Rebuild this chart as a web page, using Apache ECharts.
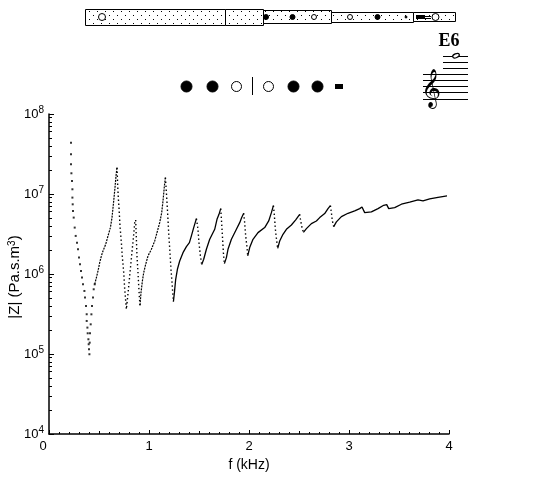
<!DOCTYPE html>
<html><head><meta charset="utf-8">
<style>html,body{margin:0;padding:0;background:#fff}#c{width:560px;height:480px}</style>
<script src="https://cdn.jsdelivr.net/npm/echarts@6/dist/echarts.min.js"></script>
</head><body><div id="c"></div>
<script>
// Frequencies in kHz, impedance as log10 |Z| (Pa.s.m^-3).
const dotFreq = [0.220,0.220,0.220,0.224,0.230,0.234,0.234,0.237,0.240,0.247,0.257,0.267,0.280,0.290,0.300,0.310,0.320,0.330,0.340,0.354,0.360,0.370,0.377,0.377,0.384,0.387,0.394,0.397,0.400,0.404,0.407,0.410,0.417,0.424,0.430,0.440,0.447,0.457];
const dotLogZ = [7.642,7.497,7.372,7.259,7.163,7.059,6.955,6.871,6.788,6.705,6.580,6.476,6.392,6.309,6.205,6.122,6.038,5.955,5.871,5.788,5.705,5.601,5.497,5.413,5.330,5.259,5.184,5.122,5.059,4.997,5.142,5.259,5.371,5.496,5.601,5.705,5.809,5.871];
const steepFreq = [0.680,0.684,0.687,0.694,0.700,0.710,0.724,0.734,0.747,0.757,0.767,0.774,0.784,0.794,0.807,0.820,0.834,0.847,0.857,0.867,0.874,0.880,0.890,0.897,0.904,0.910,null,
 1.164,1.174,1.184,1.197,1.210,1.220,1.230,1.237,1.244,null,
 1.474,1.490,1.500,1.514,1.527,null,
 1.717,1.724,1.734,1.744,1.754,null,
 1.947,1.957,1.967,1.980,1.987,null,
 2.244,2.254,2.264,2.277,2.287,null,
 2.507,2.517,2.530,2.544,null,
 2.814,2.824,2.834,2.847];
const steepLogZ = [7.330,7.205,7.101,6.934,6.830,6.601,6.392,6.205,6.017,5.809,5.663,5.559,5.684,5.809,5.976,6.142,6.330,6.496,6.642,6.676,6.434,6.226,6.017,5.851,5.705,5.609,null,
 7.205,7.017,6.809,6.517,6.267,6.059,5.892,5.767,5.655,null,
 6.692,6.559,6.392,6.226,6.117,null,
 6.817,6.684,6.476,6.267,6.130,null,
 6.759,6.642,6.476,6.330,6.226,null,
 6.855,6.726,6.559,6.413,6.321,null,
 6.746,6.663,6.580,6.521,null,
 6.855,6.767,6.663,6.592];
const denseFreq = [0.457,0.474,0.490,0.507,0.524,0.540,0.567,0.590,0.614,0.630,0.647,0.660,0.670,0.680,null,
 0.910,0.920,0.934,0.947,0.967,0.990,1.024,1.057,1.080,1.107,1.127,1.140,1.154,1.164];
const denseLogZ = [5.871,5.955,6.038,6.142,6.226,6.288,6.371,6.476,6.580,6.705,6.913,7.080,7.226,7.330,null,
 5.609,5.767,5.913,6.017,6.122,6.226,6.309,6.413,6.517,6.642,6.767,6.913,7.101,7.205];
const solidFreq = [1.244,1.254,1.267,1.284,1.307,1.340,1.374,1.404,1.424,1.447,1.474,null,
 1.527,1.547,1.574,1.607,1.657,1.680,1.700,1.717,null,
 1.754,1.774,1.790,1.824,1.874,1.907,1.927,1.947,null,
 1.987,2.007,2.040,2.090,2.157,2.197,2.224,2.244,null,
 2.287,2.307,2.340,2.374,2.424,2.467,2.507,null,
 2.544,2.574,2.624,2.674,2.707,2.757,2.790,2.814,null,
 2.847,2.874,2.924,2.990,3.057,3.107,3.130,3.157,3.174,3.224,3.290,3.347,3.377,3.397,3.417,3.457,3.524,3.607,3.690,3.740,3.807,3.890,3.980];
const solidLogZ = [5.655,5.767,5.934,6.059,6.163,6.267,6.342,6.392,6.476,6.580,6.692,null,
 6.117,6.184,6.309,6.434,6.559,6.684,6.746,6.817,null,
 6.130,6.205,6.309,6.434,6.559,6.642,6.705,6.759,null,
 6.226,6.330,6.434,6.517,6.580,6.663,6.767,6.855,null,
 6.321,6.413,6.496,6.559,6.613,6.676,6.746,null,
 6.521,6.567,6.630,6.663,6.705,6.755,6.817,6.855,null,
 6.592,6.651,6.717,6.759,6.788,6.817,6.838,6.767,6.742,6.776,6.817,6.859,6.867,6.817,6.801,6.830,6.872,6.897,6.926,6.913,6.938,6.959,6.976];
const xTickValues = [0,1,2,3,4];

function pairs(fs, ls){ return fs.map((f,i)=> f===null ? [NaN,NaN] : [f, Math.pow(10, ls[i])]); }

const pat = document.createElement('canvas'); pat.width = 8; pat.height = 8;
const pc = pat.getContext('2d'); pc.fillStyle = '#fff'; pc.fillRect(0,0,8,8);
pc.fillStyle = '#000'; pc.fillRect(1,3,1,1); pc.fillRect(5,7,1,1);
const stip = {image: pat, repeat: 'repeat'};

const K = '#000';
function box(x,y,w,h){ return {type:'rect',shape:{x,y,width:w,height:h},style:{fill:stip,stroke:K,lineWidth:1},silent:true}; }
function hole(cx,cy,r,filled){ return {type:'circle',shape:{cx,cy,r},style:{fill:filled?K:'#fff',stroke:K,lineWidth:1},silent:true}; }
function ln(x1,y1,x2,y2){ return {type:'line',shape:{x1,y1,x2,y2},style:{stroke:K,lineWidth:1},silent:true}; }
const staffYs = [74.5,80.5,86.5,92.5,99.5];
const ledgerYs = [56.5,62.5,68.5];
const deco = [
  box(85.5,9.5,140,16), box(225.5,9.5,38,16), box(263.5,10.5,68,13), box(331.5,12.5,82,10), box(413.5,12.5,42,9),
  hole(102,17,3.5,false), hole(266,17,2.5,true), hole(292.5,17,2.5,true), hole(314,17,2.5,false),
  hole(350,17,2.5,false), hole(377.5,17,2.5,true), hole(406,17,1,true),
  {type:'rect',shape:{x:416,y:15,width:9,height:4},style:{fill:K},silent:true},
  ln(425,16.5,431,16.5), ln(425,18.5,431,18.5), hole(435.5,17,3.5,false),
  hole(186.5,86.5,5.5,true), hole(212.5,86.5,5.5,true), hole(236.5,86.5,5,false),
  ln(252.5,77,252.5,95),
  hole(268.5,86.5,5,false), hole(293.5,86.5,5.5,true), hole(317.5,86.5,5.5,true),
  {type:'rect',shape:{x:335,y:84,width:8,height:5},style:{fill:K},silent:true},
  ...ledgerYs.map(y=>ln(443,y,468,y)),
  ...staffYs.map(y=>ln(423,y,468,y)),
  {type:'ellipse',shape:{cx:456,cy:55.7,rx:3.5,ry:2},rotation:0.4,originX:456,originY:55.7,style:{fill:'#fff',stroke:K,lineWidth:1.2},silent:true},
  {type:'text',style:{x:449,y:41,text:'E6',font:'bold 18px "Liberation Serif"',fill:K,align:'center',verticalAlign:'middle'},silent:true},
  {type:'text',style:{x:431,y:90,text:'\uD834\uDD1E',font:'34px "DejaVu Sans"',fill:K,align:'center',verticalAlign:'middle'},silent:true}
];

const FONT = '"Liberation Sans"';
const chart = echarts.init(document.getElementById('c'), null, {renderer:'canvas'});
chart.setOption({
  animation:false,
  backgroundColor:'#fff',
  graphic:{elements:deco},
  grid:{left:49,top:114,width:400,height:320,containLabel:false,outerBoundsMode:'none'},
  xAxis:[{
    type:'value',min:0,max:4,interval:1,
    name:'f (kHz)',nameLocation:'middle',nameGap:18,
    nameTextStyle:{fontFamily:FONT,fontSize:14,color:K},
    axisLine:{show:true,onZero:false,lineStyle:{color:K,width:1.5}},
    axisTick:{show:true,inside:true,length:4,lineStyle:{color:K,width:1}},
    minorTick:{show:true,splitNumber:10,length:2,lineStyle:{color:K,width:1}},
    splitLine:{show:false},
    axisLabel:{margin:6,fontFamily:FONT,fontSize:13,color:K,
      customValues:xTickValues,
      formatter:v=> v===0 ? '{z|0}' : String(v),
      rich:{z:{fontFamily:FONT,fontSize:13,color:K,padding:[0,12,0,0]}}}
  },{
    type:'value',min:0,max:4,interval:0.5,position:'bottom',
    axisLine:{show:false},
    axisTick:{show:true,inside:true,length:3,lineStyle:{color:K,width:1}},
    axisLabel:{show:false},splitLine:{show:false}
  }],
  yAxis:{
    type:'log',logBase:10,min:1e4,max:1e8,
    name:'{a||Z| (Pa.s.m}{s|3}{a|)}',nameLocation:'middle',nameGap:26,nameRotate:90,nameMoveOverlap:false,
    nameTextStyle:{padding:[0,6,0,0],rich:{a:{fontFamily:FONT,fontSize:15,color:K},s:{fontFamily:FONT,fontSize:10,color:K,padding:[0,0,6,0]}}},
    axisLine:{show:true,onZero:false,lineStyle:{color:K,width:1.5}},
    axisTick:{show:true,inside:true,length:5,lineStyle:{color:K,width:1}},
    minorTick:{show:true,splitNumber:9,length:3,lineStyle:{color:K,width:1}},
    splitLine:{show:false},
    axisLabel:{margin:5,align:'right',
      formatter:v=>'{b|10}{e|'+Math.round(Math.log10(v))+'}',
      rich:{b:{fontFamily:FONT,fontSize:13,color:K},e:{fontFamily:FONT,fontSize:10,color:K,padding:[0,0,8,0]}}}
  },
  series:[
    {type:'scatter',name:'dots',symbol:'rect',symbolSize:2,itemStyle:{color:K},data:pairs(dotFreq,dotLogZ),silent:true},
    {type:'line',name:'steep',showSymbol:false,connectNulls:false,silent:true,lineStyle:{color:K,width:1.4,type:[1.4,2.6]},data:pairs(steepFreq,steepLogZ)},
    {type:'line',name:'dense',showSymbol:false,connectNulls:false,silent:true,lineStyle:{color:K,width:1.2,type:[2,1]},data:pairs(denseFreq,denseLogZ)},
    {type:'line',name:'solid',showSymbol:false,connectNulls:false,silent:true,lineStyle:{color:K,width:1.3},data:pairs(solidFreq,solidLogZ)}
  ]
});
</script></body></html>
